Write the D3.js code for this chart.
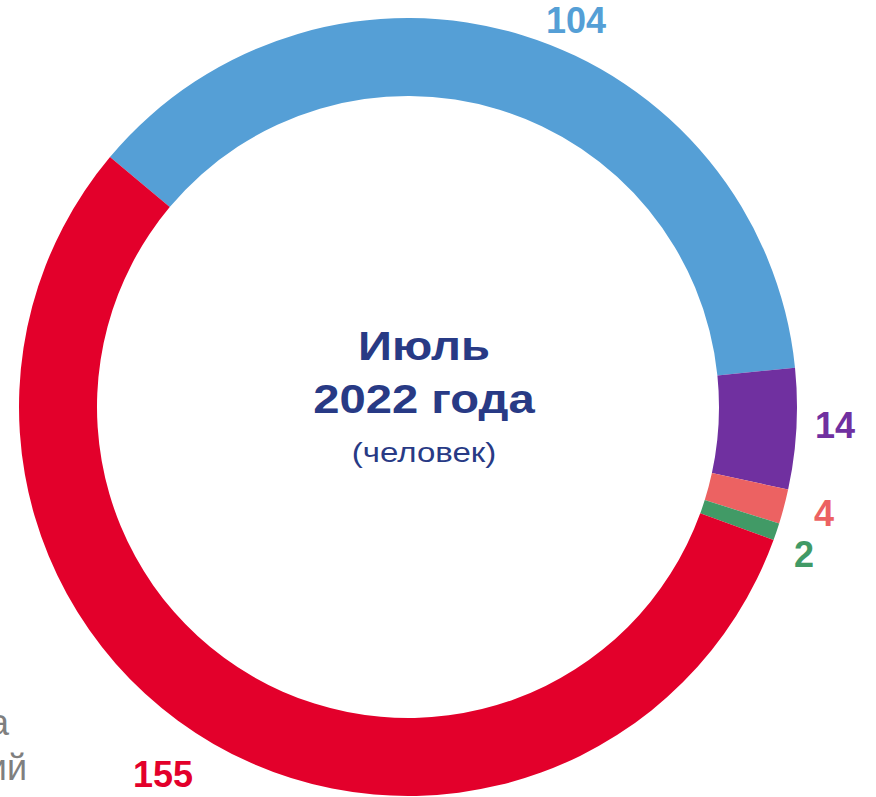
<!DOCTYPE html>
<html>
<head>
<meta charset="utf-8">
<script src="https://cdn.jsdelivr.net/npm/d3@7"></script>
<style>
  html, body { margin: 0; padding: 0; background: #fff; }
  svg { display: block; font-family: "Liberation Sans", Arial, sans-serif; }
</style>
</head>
<body>
<div id="chart"></div>
<script>
// Data
const categories = ["blue", "purple", "salmon", "green", "red"];
const values = [104, 14, 4, 2, 155];
const colors = ["#559fd6", "#7030a0", "#ec6262", "#419a66", "#e3002b"];
const titleLines = ["Июль", "2022 года"];
const subtitle = "(человек)";
const legendTails = ["а", "ий"];

// Dimensions
const width = 876;
const height = 797;
const cx = 408, cy = 407;
const outerR = 389, innerR = 311;

const svg = d3.select("#chart").append("svg")
    .attr("width", width)
    .attr("height", height);

// Pie layout, first slice starts up-left
const startAngle = -50 * Math.PI / 180;
const pie = d3.pie()
    .sort(null)
    .value(d => d)
    .startAngle(startAngle)
    .endAngle(startAngle + 2 * Math.PI);

const arc = d3.arc().innerRadius(innerR).outerRadius(outerR);

const arcs = pie(values);

const g = svg.append("g").attr("transform", `translate(${cx},${cy})`);

g.selectAll("path.slice")
    .data(arcs)
    .enter().append("path")
    .attr("class", "slice")
    .attr("d", arc)
    .attr("fill", (d, i) => colors[i]);

// Value labels (positions next to each slice)
const labelPos = [
    { x: 576, y: 33 },
    { x: 835, y: 438 },
    { x: 824, y: 526 },
    { x: 804, y: 567 },
    { x: 163, y: 787 }
];

svg.selectAll("text.value")
    .data(arcs)
    .enter().append("text")
    .attr("class", "value")
    .attr("x", (d, i) => labelPos[i].x)
    .attr("y", (d, i) => labelPos[i].y)
    .attr("text-anchor", "middle")
    .attr("font-size", 36)
    .attr("font-weight", "bold")
    .attr("fill", (d, i) => colors[i])
    .text(d => d.data);

// Center title (text is a bit wider than tall in the original)
const center = svg.append("g")
    .attr("transform", "translate(424,0) scale(1.18,1)");

center.selectAll("text.title")
    .data(titleLines)
    .enter().append("text")
    .attr("class", "title")
    .attr("x", 0)
    .attr("y", (d, i) => 360 + i * 53)
    .attr("text-anchor", "middle")
    .attr("font-size", 40)
    .attr("font-weight", "bold")
    .attr("fill", "#283a85")
    .text(d => d);

center.append("text")
    .attr("x", 0)
    .attr("y", 462)
    .attr("text-anchor", "middle")
    .attr("font-size", 28)
    .attr("fill", "#283a85")
    .text(subtitle);

// Legend remnants cut off at left edge
svg.selectAll("text.legend")
    .data(legendTails)
    .enter().append("text")
    .attr("class", "legend")
    .attr("x", (d, i) => i === 0 ? 9 : 27)
    .attr("y", (d, i) => 735 + i * 45)
    .attr("text-anchor", "end")
    .attr("font-size", 36)
    .attr("fill", "#7f7f7f")
    .text(d => d);
</script>
</body>
</html>
